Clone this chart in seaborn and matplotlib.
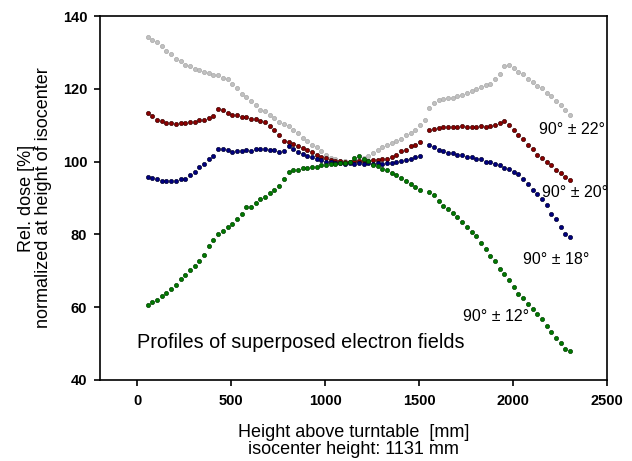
import numpy as np
import pandas as pd
import matplotlib
matplotlib.use("Agg")
import matplotlib.pyplot as plt
import seaborn as sns

nan = np.nan

# measurement heights above turntable [mm]
heights = [55, 80, 105, 130, 155, 180, 205, 230, 255, 280,
           305, 330, 355, 380, 405, 430, 455, 480, 505, 530,
           555, 580, 605, 630, 655, 680, 705, 730, 755, 780,
           805, 830, 855, 880, 905, 930, 955, 980, 1005, 1030,
           1055, 1080, 1105, 1130, 1155, 1180, 1205, 1230, 1255, 1280,
           1305, 1330, 1355, 1380, 1405, 1430, 1455, 1480, 1505, 1530,
           1555, 1580, 1605, 1630, 1655, 1680, 1705, 1730, 1755, 1780,
           1805, 1830, 1855, 1880, 1905, 1930, 1955, 1980, 2005, 2030,
           2055, 2080, 2105, 2130, 2155, 2180, 2205, 2230, 2255, 2280,
           2305]

dose_22 = [134.3, 133.4, 133.0, 131.9, 130.4, 129.6, 128.3, 127.8, 126.7, 126.4,
           125.6, 125.3, 124.7, 124.5, 123.9, 123.9, 123.0, 122.7, 121.3, 120.2,
           118.7, 117.9, 116.8, 115.7, 114.3, 113.8, 112.7, 112.1, 110.8, 110.4,
           109.8, 108.6, 107.8, 106.5, 105.8, 104.6, 104.1, 102.8, 101.9, 101.1,
           100.7, 100.2, 100.2, 99.9, 100.3, 100.4, 101.1, 101.6, 102.5, 103.3,
           104.0, 104.7, 105.0, 105.8, 106.3, 107.4, 107.9, 108.8, 110.1, 111.5,
           114.8, 116.0, 116.9, 117.1, 117.5, 117.4, 118.0, 118.3, 119.0, 119.4,
           120.1, 120.5, 121.2, 121.4, 122.7, 124.2, 126.3, 126.5, 125.8, 124.7,
           124.0, 122.7, 122.0, 120.9, 120.2, 118.9, 118.0, 116.8, 115.6, 114.1,
           112.9]

dose_20 = [113.3, 112.5, 111.4, 111.1, 110.5, 110.5, 110.4, 110.7, 110.7, 111.0,
           110.9, 111.4, 111.4, 111.9, 112.5, 114.6, 114.1, 113.5, 112.9, 112.7,
           112.2, 112.3, 111.7, 111.6, 111.2, 110.8, 109.7, 108.7, 107.3, 105.7,
           105.3, 104.9, 104.2, 103.7, 103.1, 102.6, 101.9, 101.4, 100.9, 100.5,
           100.1, 100.1, 99.8, 100.0, 100.2, 100.2, 100.3, 100.2, 100.5, 100.4,
           100.7, 100.8, 101.4, 101.8, 102.8, 103.3, 104.2, 104.7, 105.5, nan,
           108.6, 109.1, 109.2, 109.5, 109.4, 109.6, 109.5, 109.7, 109.4, 109.6,
           109.5, 109.7, 109.6, 109.9, 110.0, 110.7, 111.3, 110.1, 108.7, 107.3,
           106.1, 104.5, 103.4, 101.9, 101.0, 99.8, 99.1, 97.8, 96.9, 95.8,
           94.9]

dose_18 = [95.9, 95.5, 95.3, 94.7, 94.6, 94.8, 94.8, 95.1, 95.3, 96.3,
           97.2, 98.5, 99.4, 100.7, 101.5, 103.4, 103.4, 103.1, 102.7, 103.0,
           102.9, 103.3, 103.0, 103.4, 103.4, 103.5, 103.1, 103.1, 102.7, 102.8,
           104.2, 103.5, 102.7, 102.2, 101.5, 101.3, 100.7, 100.5, 100.0, 99.9,
           99.7, 99.7, 99.4, 99.6, 99.3, 99.5, 99.4, 99.6, 99.4, 99.5,
           99.4, 99.6, 99.6, 100.0, 100.1, 100.5, 100.6, 101.2, 101.6, nan,
           104.5, 104.1, 103.3, 103.0, 102.4, 102.3, 101.9, 101.9, 101.4, 101.4,
           100.8, 100.6, 100.0, 99.9, 99.4, 99.1, 98.3, 97.9, 97.1, 96.6,
           95.1, 93.9, 92.3, 91.1, 89.6, 88.1, 85.7, 84.3, 81.9, 80.1,
           79.2]

dose_12 = [60.6, 61.4, 61.9, 63.0, 63.8, 65.1, 66.2, 67.7, 68.9, 70.3,
           71.2, 72.6, 74.4, 76.7, 78.5, 80.0, 80.8, 82.1, 82.9, 84.1,
           85.5, 87.4, 87.6, 88.7, 89.7, 90.3, 91.5, 92.3, 93.2, 95.3,
           97.2, 97.7, 97.8, 98.2, 98.2, 98.6, 98.6, 99.0, 99.1, 99.4,
           99.4, 99.7, 99.7, 100.0, 101.0, 101.6, 100.8, 100.1, 99.1, 98.7,
           98.0, 97.7, 96.8, 96.3, 95.4, 94.8, 93.8, 93.1, 92.1, nan,
           91.6, 90.7, 89.3, 87.8, 87.0, 85.8, 84.9, 83.4, 82.1, 80.6,
           79.6, 77.7, 76.0, 74.0, 72.6, 70.5, 69.0, 67.4, 65.4, 63.5,
           62.4, 60.8, 59.6, 58.1, 56.7, 54.7, 53.1, 51.4, 50.1, 48.5,
           47.8]

labels = ["90° ± 22°", "90° ± 20°", "90° ± 18°", "90° ± 12°"]
colors = ["#c0c0c0", "#8b0000", "#000080", "#007a00"]
edges = ["#a8a8a8", "#3a0000", "#000030", "#004000"]

frames = []
for lab, vals in zip(labels, [dose_22, dose_20, dose_18, dose_12]):
    frames.append(pd.DataFrame({"height": heights, "dose": vals, "field": lab}))
df = pd.concat(frames, ignore_index=True).dropna()

sns.set_style("ticks")
plt.rcParams["font.family"] = ["Liberation Sans", "DejaVu Sans"]
plt.rcParams["text.color"] = "black"
plt.rcParams["axes.labelcolor"] = "black"

fig = plt.figure(figsize=(6.32, 4.61), dpi=100)
ax = fig.add_axes([0.158, 0.176, 0.802, 0.789])

for lab, col, ec in zip(labels, colors, edges):
    sns.scatterplot(data=df[df.field == lab], x="height", y="dose",
                    color=col, edgecolor=ec, linewidth=0.5, s=9,
                    marker="o", ax=ax, legend=False, zorder=3)

ax.set_xlim(-200, 2500)
ax.set_ylim(40, 140)
ax.set_xticks([0, 500, 1000, 1500, 2000, 2500])
ax.set_yticks([40, 60, 80, 100, 120, 140])
for sp in ax.spines.values():
    sp.set_visible(True)
    sp.set_color("black")
    sp.set_linewidth(1.2)
ax.tick_params(direction="out", length=4, width=1.2, labelsize=10.5,
               colors="black", labelcolor="black")
ax.tick_params(axis="x", pad=6)
ax.tick_params(axis="y", pad=5)
for t in ax.get_xticklabels() + ax.get_yticklabels():
    t.set_fontweight("bold")

ax.set_xlabel("Height above turntable  [mm]\nisocenter height: 1131 mm",
              fontsize=13, labelpad=12, linespacing=1.0)
ax.set_ylabel("Rel. dose [%]\nnormalized at height of isocenter",
              fontsize=13, labelpad=8, linespacing=1.0)

ax.text(2138, 108.7, labels[0], fontsize=11.5, va="center", ha="left")
ax.text(2154, 91.4, labels[1], fontsize=11.5, va="center", ha="left")
ax.text(2052, 73.0, labels[2], fontsize=11.5, va="center", ha="left")
ax.text(1732, 57.3, labels[3], fontsize=11.5, va="center", ha="left")
ax.text(0, 50.2, "Profiles of superposed electron fields", fontsize=14.3,
        va="center", ha="left")

fig.savefig("out.png", dpi=100)
